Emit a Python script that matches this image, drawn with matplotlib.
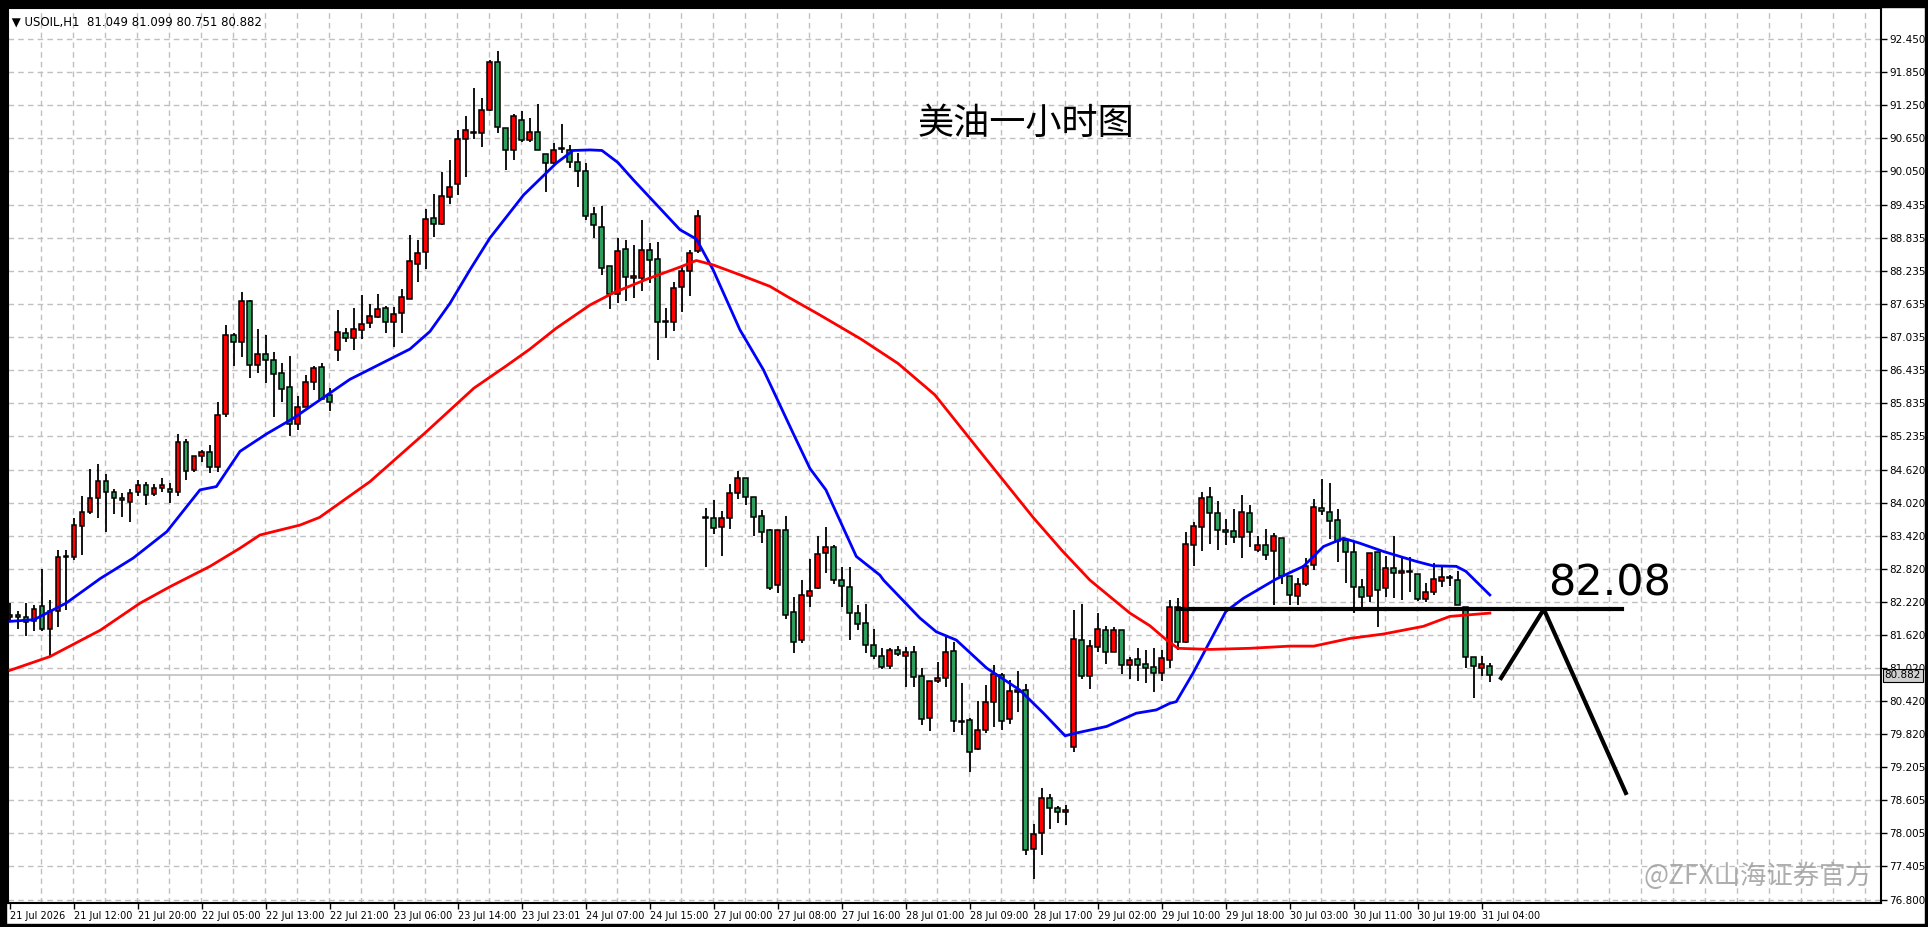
import matplotlib
matplotlib.use("Agg")
import matplotlib.pyplot as plt
import numpy as np
from matplotlib.patches import Rectangle

plt.rcParams['font.family'] = ['DejaVu Sans', 'Noto Sans CJK SC']

ohlc = [
(81.94,82.19,81.89,81.97),(81.97,82.04,81.72,81.94),(81.94,82.19,81.60,81.84),(81.87,82.16,81.69,82.09),
(82.14,82.82,81.69,81.72),(81.72,82.25,81.21,82.04),(82.04,83.16,81.75,83.03),(83.03,83.16,82.07,83.03),
(83.03,83.74,82.97,83.61),(83.60,84.14,83.07,83.85),(83.85,84.63,83.81,84.10),(84.10,84.72,83.74,84.41),
(84.41,84.54,83.49,84.21),(84.21,84.27,83.81,84.10),(84.10,84.19,83.75,84.06),(84.03,84.27,83.67,84.19),
(84.21,84.43,84.13,84.34),(84.34,84.40,83.98,84.15),(84.17,84.36,84.13,84.28),(84.28,84.46,84.21,84.34),
(84.26,84.38,84.02,84.21),(84.21,85.27,84.13,85.12),(85.12,85.17,84.43,84.59),(84.61,84.87,84.57,84.86),
(84.87,84.98,84.75,84.93),(84.93,85.07,84.55,84.66),(84.66,85.84,84.57,85.61),(85.63,87.24,85.58,87.06),
(87.06,87.11,86.50,86.93),(86.93,87.84,86.66,87.68),(87.68,87.70,86.29,86.52),(86.52,87.18,86.38,86.72),
(86.72,87.06,86.19,86.61),(86.61,86.75,85.58,86.35),(86.37,86.55,85.84,86.09),(86.12,86.68,85.23,85.44),
(85.44,85.95,85.34,85.75),(85.75,86.34,85.75,86.21),(86.22,86.50,86.06,86.46),(86.48,86.56,85.90,85.90),
(85.97,86.10,85.69,85.84),(86.79,87.52,86.60,87.12),(87.11,87.19,86.93,87.01),(87.01,87.55,86.80,87.17),
(87.16,87.79,86.99,87.26),(87.28,87.63,87.20,87.41),(87.40,87.81,87.37,87.54),(87.55,87.60,87.11,87.30),
(87.30,87.58,86.84,87.44),(87.46,87.91,87.10,87.75),(87.72,88.89,87.72,88.41),(88.35,88.80,88.02,88.55),
(88.57,89.35,88.27,89.17),(89.19,89.63,88.84,89.08),(89.08,90.03,89.06,89.59),(89.57,90.25,89.44,89.75),
(89.81,90.80,89.61,90.63),(90.63,91.05,89.93,90.79),(90.74,91.55,90.63,90.74),(90.74,91.37,90.48,91.15),
(91.15,92.07,91.13,92.03),(92.03,92.23,90.74,90.84),(90.82,90.82,90.06,90.43),(90.42,91.09,90.25,91.04),
(90.98,91.13,90.57,90.61),(90.61,91.01,90.57,90.75),(90.75,91.27,90.43,90.43),(90.35,90.35,89.66,90.19),
(90.19,90.55,90.18,90.43),(90.44,90.90,90.38,90.44),(90.43,90.52,90.10,90.21),(90.21,90.37,89.75,90.04),
(90.04,90.19,89.16,89.23),(89.27,89.39,88.83,89.06),(89.02,89.41,88.15,88.28),(88.32,88.32,87.53,87.81),
(87.81,88.83,87.64,88.60),(88.62,88.80,87.69,88.12),(88.11,88.70,87.74,88.11),(88.11,89.16,87.87,88.61),
(88.61,88.73,88.01,88.43),(88.44,88.76,86.61,87.30),(87.30,87.56,87.01,87.30),(87.30,88.02,87.13,87.92),
(87.93,88.34,87.49,88.23),(88.23,88.61,87.78,88.55),(88.59,89.34,88.55,89.23),(83.73,83.92,82.84,83.73),
(83.73,84.07,83.44,83.55),(83.57,83.86,83.04,83.73),(83.73,84.35,83.54,84.19),(84.19,84.60,84.09,84.46),
(84.46,84.46,83.98,84.12),(84.12,84.12,83.42,83.75),(83.77,83.89,83.29,83.48),(83.52,83.54,82.43,82.46),
(82.52,83.52,82.37,83.52),(83.52,83.78,81.90,81.97),(82.03,82.30,81.29,81.49),(81.53,82.61,81.47,82.34),
(82.32,82.99,82.13,82.42),(82.46,83.41,82.44,83.08),(83.10,83.58,82.73,83.21),(83.21,83.24,82.54,82.61),
(82.61,82.84,82.12,82.50),(82.48,82.84,81.52,82.01),(82.01,82.15,81.70,81.81),(81.83,82.17,81.28,81.43),
(81.43,81.72,81.17,81.23),(81.23,81.37,80.99,81.03),(81.04,81.37,80.99,81.34),(81.34,81.41,81.23,81.26),
(81.23,81.39,80.66,81.30),(81.30,81.41,80.67,80.84),(80.86,81.01,79.97,80.08),(80.10,80.77,79.87,80.77),
(80.77,81.12,80.74,80.83),(80.83,81.57,80.66,81.30),(81.32,81.48,79.85,80.04),(80.03,80.74,79.80,80.03),
(80.06,80.10,79.12,79.48),(79.54,80.42,79.52,79.88),(79.88,80.70,79.83,80.39),(80.39,81.06,79.94,80.90),
(80.88,80.92,79.88,80.04),(80.08,80.79,79.99,80.59),(80.57,80.96,80.21,80.61),(80.61,80.72,77.62,77.70),
(77.72,78.17,77.18,77.99),(78.01,78.83,77.62,78.64),(78.64,78.72,78.08,78.46),(78.46,78.50,78.19,78.39),
(78.39,78.52,78.15,78.43),(79.57,82.07,79.48,81.54),(81.52,82.17,80.81,80.86),(80.86,81.52,80.63,81.41),
(81.39,82.01,81.30,81.72),(81.70,81.77,81.08,81.30),(81.30,81.75,81.30,81.70),(81.70,81.70,80.90,81.06),
(81.06,81.21,80.81,81.15),(81.17,81.37,80.77,81.06),(81.08,81.34,80.74,81.01),(81.03,81.37,80.57,80.92),
(80.93,81.34,80.77,81.19),(81.15,82.24,81.01,82.13),(82.13,82.28,81.34,81.48),(81.49,83.48,81.46,83.26),
(83.24,83.67,82.87,83.60),(83.57,84.22,83.14,84.10),(84.12,84.30,83.27,83.83),(83.83,84.04,83.15,83.52),
(83.52,83.72,83.24,83.48),(83.50,83.90,83.29,83.39),(83.39,84.15,83.02,83.84),(83.83,83.97,83.22,83.48),
(83.15,83.42,83.12,83.24),(83.24,83.53,82.98,83.06),(83.13,83.46,82.15,83.41),(83.37,83.37,82.53,82.68),
(82.68,82.68,82.15,82.33),(82.32,82.64,82.15,82.53),(82.53,83.01,82.50,82.87),(82.88,84.08,82.79,83.93),
(83.92,84.45,83.79,83.86),(83.84,84.38,83.35,83.68),(83.70,83.90,82.93,83.32),(83.34,83.34,82.55,83.12),
(83.12,83.30,82.01,82.48),(82.48,82.63,82.10,82.30),(82.32,83.10,82.21,83.10),(83.12,83.12,81.75,82.43),
(82.46,83.04,82.30,82.83),(82.83,83.41,82.28,82.73),(82.73,83.01,82.24,82.77),(82.76,83.03,82.39,82.76),
(82.72,82.72,82.23,82.26),(82.26,82.55,82.21,82.39),(82.39,82.92,82.33,82.63),(82.59,82.88,82.48,82.66),
(82.65,82.70,82.51,82.65),(82.61,82.77,82.15,82.15),(82.13,82.13,81.01,81.21),(81.21,81.21,80.46,81.04),
(81.02,81.23,80.86,81.08),(81.049,81.099,80.751,80.882),
]
opens = [r[0] for r in ohlc]
highs = [r[1] for r in ohlc]
lows = [r[2] for r in ohlc]
closes = [r[3] for r in ohlc]

ma_fast_idx = [0,3,7,11.3,15.4,19.6,23.75,25.8,28.75,32.1,35.4,42.5,50,52.5,55,57.5,60,64.2,68.3,70.4,72.5,74,76,77.9,83.75,85.8,87.9,91.25,94.2,97.9,100,102,105.8,108.75,109.2,113.75,115.8,118.3,122.1,126.25,129.2,131.9,133.3,137.1,140.8,143.3,145,145.8,147.9,152,154.2,158.3,161.7,164.2,166.7,168.75,171.7,175.8,177.9,180.8,182,185]
ma_fast_val = [81.86,81.89,82.19,82.64,83.01,83.49,84.25,84.31,84.95,85.27,85.55,86.26,86.81,87.13,87.64,88.25,88.83,89.61,90.19,90.42,90.43,90.42,90.2,89.89,88.98,88.81,88.25,87.16,86.43,85.28,84.64,84.25,83.04,82.70,82.61,81.92,81.67,81.52,81.01,80.61,80.19,79.78,79.83,79.95,80.19,80.25,80.37,80.40,80.92,82.04,82.28,82.63,82.86,83.22,83.37,83.28,83.13,82.95,82.87,82.86,82.77,82.34]
ma_slow_idx = [0,5,11.3,16.25,20,25,28.75,31.25,36.25,38.7,45,52,58,62,65,68.3,72.5,75.4,79.6,83.75,85.8,87.9,91.25,95,97.1,101,106.4,111,115.6,121.7,127.9,131.5,135,140,142.5,144.6,146,150,155,160,163,167.5,171.7,176.7,180,185]
ma_slow_val = [80.97,81.22,81.70,82.19,82.49,82.86,83.19,83.43,83.61,83.75,84.4,85.3,86.1,86.5,86.81,87.19,87.61,87.83,88.08,88.30,88.42,88.34,88.16,87.95,87.77,87.45,86.99,86.55,85.98,84.87,83.75,83.15,82.61,82.01,81.78,81.52,81.37,81.35,81.37,81.41,81.41,81.55,81.63,81.77,81.95,82.01]

ytick_vals = [92.450,91.850,91.250,90.650,90.050,89.435,88.835,88.235,87.635,87.035,86.435,85.835,85.235,84.620,84.020,83.420,82.820,82.220,81.620,81.020,80.420,79.820,79.205,78.605,78.005,77.405,76.800]
xtick_labels = ["21 Jul 2026","21 Jul 12:00","21 Jul 20:00","22 Jul 05:00","22 Jul 13:00","22 Jul 21:00","23 Jul 06:00","23 Jul 14:00","23 Jul 23:01","24 Jul 07:00","24 Jul 15:00","27 Jul 00:00","27 Jul 08:00","27 Jul 16:00","28 Jul 01:00","28 Jul 09:00","28 Jul 17:00","29 Jul 02:00","29 Jul 10:00","29 Jul 18:00","30 Jul 03:00","30 Jul 11:00","30 Jul 19:00","31 Jul 04:00"]
level = 82.08
last_price = 80.882
zig_x = [186.4, 191.75, 202]
zig_y = [80.83, 82.08, 78.74]

W, H = 1928, 927
fig = plt.figure(figsize=(W/100, H/100), dpi=100, facecolor='white')
ax = fig.add_axes([8/W, (H-903)/H, (1881-8)/W, (903-8)/H])
ax.set_xlim(-0.25, 233.9)
ax.set_ylim(76.74, 93.01)

for yv in ytick_vals:
    ax.axhline(yv, color='#c0c0c0', ls=(0, (4, 3)), lw=1, zorder=0)
for gx in np.arange(4, 234, 4):
    ax.axvline(gx - 0.1, color='#c0c0c0', ls=(0, (4, 3)), lw=1, zorder=0)

ax.axhline(last_price, color='#c0c0c0', lw=1.2, zorder=1)

x = np.arange(len(opens))
o = np.array(opens); c = np.array(closes); h = np.array(highs); l = np.array(lows)
ax.vlines(x, l, h, color='black', lw=1.3, zorder=2)
up = c >= o
cols = np.where(up, '#ff0000', '#2e9e5f')
bottoms = np.minimum(o, c)
heights = np.maximum(np.abs(c - o), 0.02)
ax.bar(x, heights, bottom=bottoms, width=0.62, color=cols, edgecolor='black', linewidth=1.1, zorder=3)

ax.plot(ma_fast_idx, ma_fast_val, color='#0000ff', lw=2, zorder=4)
ax.plot(ma_slow_idx, ma_slow_val, color='#ff0000', lw=2, zorder=4)

ax.plot([146, 201.5], [level, level], color='black', lw=3, zorder=5)
ax.plot(zig_x, zig_y, color='black', lw=3, zorder=5)
ax.text(200, 82.55, "82.08", fontsize=31, color='black', ha='center', va='center', zorder=6)

ax.text(127, 90.9, "美油一小时图", fontsize=26, family=['Noto Sans CJK SC'], ha='center', va='center')
ax.text(0.0, 0.984, " \u25BC USOIL,H1  81.049 81.099 80.751 80.882", transform=ax.transAxes,
        fontsize=8.5, va='center', ha='left')
fig.text(1872/W, 1-876/H, "@ZFX山海证券官方", fontsize=19, family=['Noto Sans CJK SC', 'DejaVu Sans'],
         color='#9a9a9a', ha='right', va='center', alpha=0.8)

ax.yaxis.tick_right()
ax.set_yticks(ytick_vals)
ax.set_yticklabels([f"{v:.3f}" for v in ytick_vals], fontsize=7.5)
ax.set_xticks(np.arange(0, 8*len(xtick_labels), 8))
ax.set_xticklabels(xtick_labels, fontsize=7, ha='left')
ax.tick_params(axis='both', length=4, width=1, pad=2, colors='black')
ax.text(1.002, (last_price-76.74)/(93.01-76.74), "80.882", transform=ax.transAxes, fontsize=7.5,
        va='center', ha='left', color='black',
        bbox=dict(boxstyle='square,pad=0.15', fc='#d0d0d0', ec='black', lw=0.8))
for s in ax.spines.values():
    s.set_color('black'); s.set_linewidth(1.5)

fig.patches.append(Rectangle((0, 1-7/H), 1, 7/H, transform=fig.transFigure, color='black'))
fig.patches.append(Rectangle((0, 0), 6/W, 1, transform=fig.transFigure, color='black'))
fig.patches.append(Rectangle((0, 0), 1, 3/H, transform=fig.transFigure, color='black'))
fig.patches.append(Rectangle((1-3/W, 0), 3/W, 1, transform=fig.transFigure, color='black'))

fig.savefig("out.png", dpi=100, facecolor='white')
